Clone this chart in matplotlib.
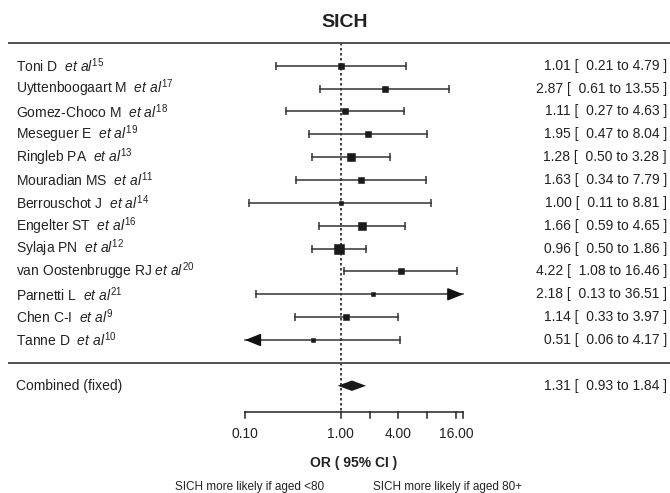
import matplotlib
matplotlib.use("Agg")
import matplotlib.pyplot as plt
from matplotlib.transforms import blended_transform_factory
import numpy as np

plt.rcParams['font.family'] = ['Liberation Sans', 'DejaVu Sans']
plt.rcParams['mathtext.fontset'] = 'custom'
plt.rcParams['mathtext.rm'] = 'Liberation Sans'
plt.rcParams['mathtext.it'] = 'Liberation Sans:italic'
plt.rcParams['mathtext.default'] = 'regular'

# ---- data ----
authors = ["Toni D ", "Uyttenboogaart M ", "Gomez-Choco M ", "Meseguer E ",
           "Ringleb PA ", "Mouradian MS ", "Berrouschot J ", "Engelter ST ",
           "Sylaja PN ", "van Oostenbrugge RJ", "Parnetti L ", "Chen C-I ",
           "Tanne D "]
refs = [15, 17, 18, 19, 13, 11, 14, 16, 12, 20, 21, 9, 10]
or_vals = [1.01, 2.87, 1.11, 1.95, 1.28, 1.63, 1.00, 1.66, 0.96, 4.22, 2.18, 1.14, 0.51]
lo_vals = [0.21, 0.61, 0.27, 0.47, 0.50, 0.34, 0.11, 0.59, 0.50, 1.08, 0.13, 0.33, 0.06]
hi_vals = [4.79, 13.55, 4.63, 8.04, 3.28, 7.79, 8.81, 4.65, 1.86, 16.46, 36.51, 3.97, 4.17]
weights = [5, 5, 5, 6, 7, 5, 4.5, 7, 9, 5, 4, 5, 4]   # relative box size (px)

comb_label = "Combined (fixed)"
comb_or, comb_lo, comb_hi = 1.31, 0.93, 1.84

tick_vals = [0.1, 1, 2, 4, 8, 16]
tick_labels = {0.1: "0.10", 1: "1.00", 4: "4.00", 16: "16.00"}
x_min, x_max = 0.1, 19.1

# ---- layout ----
W, H = 670, 493
fig = plt.figure(figsize=(W / 100, H / 100), dpi=100)
ax_left, ax_right = 245 / W, 463.3 / W
ax = fig.add_axes([ax_left, 0, ax_right - ax_left, 1])
ax.set_xscale('log')
ax.set_xlim(x_min, x_max)
y0, dy = 65.7, 22.86
ax.set_ylim((H - y0) / dy, (0 - y0) / dy)
ax.axis('off')

col = '#222222'
n = len(authors)
rows = np.arange(n)
comb_row = n + 1
sep_row = n
top_row = -1.0
axis_row = (411.7 - y0) / dy

figx = blended_transform_factory(fig.transFigure, ax.transData)

def fx(px):
    return px / W

# horizontal separators
for r in (top_row, sep_row):
    ax.plot([fx(8), 1.0], [r, r], transform=figx, color='#444444', lw=1.3,
            clip_on=False, solid_capstyle='butt')

# title
ax.text(fx(345), -1.88, "SICH", transform=figx, ha='center', va='center',
        fontsize=14, fontweight='bold', color=col)

# null line
ax.plot([1, 1], [top_row, axis_row], color=col, lw=1.2, ls=(0, (1.5, 1.5)),
        clip_on=False, zorder=1)

arrow_style = '-|>,head_length=0.8,head_width=0.32'

# studies
for i in rows:
    lo, hi, est = lo_vals[i], hi_vals[i], or_vals[i]
    lo_d = max(lo, x_min)
    hi_d = min(hi, x_max)
    ax.plot([lo_d, hi_d], [i, i], color='#333333', lw=1.1, clip_on=False, zorder=2)
    if lo >= x_min:
        ax.plot([lo], [i], marker='|', ms=5.5, mew=1.1, color='#333333', clip_on=False)
    else:
        ax.annotate('', xy=(x_min, i), xytext=(x_min * 1.35, i),
                    arrowprops=dict(arrowstyle=arrow_style,
                                    color='#111111', lw=1.1, shrinkA=0, shrinkB=0,
                                    mutation_scale=12), annotation_clip=False)
    if hi <= x_max:
        ax.plot([hi], [i], marker='|', ms=5.5, mew=1.1, color='#333333', clip_on=False)
    else:
        ax.annotate('', xy=(x_max, i), xytext=(x_max / 1.35, i),
                    arrowprops=dict(arrowstyle=arrow_style,
                                    color='#111111', lw=1.1, shrinkA=0, shrinkB=0,
                                    mutation_scale=12), annotation_clip=False)
    ax.plot([est], [i], marker='s', ms=weights[i] * 0.78, color='#1a1a1a',
            mew=0.4, mec='#1a1a1a', clip_on=False, zorder=3)
    ax.text(fx(16), i, authors[i] + r" $\mathit{et\ al}^{%d}$" % refs[i],
            transform=figx, ha='left', va='center', fontsize=10, color=col)
    ax.text(fx(667), i, "%.2f [  %.2f to %.2f ]" % (est, lo, hi),
            transform=figx, ha='right', va='center', fontsize=10, color=col)

# combined
hh = 5.2 / dy
ax.fill([comb_lo, comb_or, comb_hi, comb_or], [comb_row, comb_row - hh, comb_row, comb_row + hh],
        color='#1a1a1a', lw=0, zorder=3)
ax.text(fx(16), comb_row, comb_label, transform=figx, ha='left', va='center',
        fontsize=10, color=col)
ax.text(fx(667), comb_row, "%.2f [  %.2f to %.2f ]" % (comb_or, comb_lo, comb_hi),
        transform=figx, ha='right', va='center', fontsize=10, color=col)

# axis
tick_len = 6.5 / dy
ax.plot([x_min, x_max], [axis_row, axis_row], color=col, lw=1.1, clip_on=False)
for t in tick_vals + [x_max]:
    ax.plot([t, t], [axis_row, axis_row + tick_len], color=col, lw=1.1, clip_on=False)
    if t in tick_labels:
        ax.text(t, (434 - y0) / dy, tick_labels[t], ha='center', va='center',
                fontsize=10, color=col)

ax.text(fx(354), (463 - y0) / dy, "OR ( 95% CI )", transform=figx, ha='center',
        va='center', fontsize=10, fontweight='bold', color=col)
ax.text(fx(250), (487 - y0) / dy, "SICH more likely if aged <80", transform=figx,
        ha='center', va='center', fontsize=8.5, color=col)
ax.text(fx(447.5), (487 - y0) / dy, "SICH more likely if aged 80+", transform=figx,
        ha='center', va='center', fontsize=8.5, color=col)

fig.savefig("out.png", dpi=100)
